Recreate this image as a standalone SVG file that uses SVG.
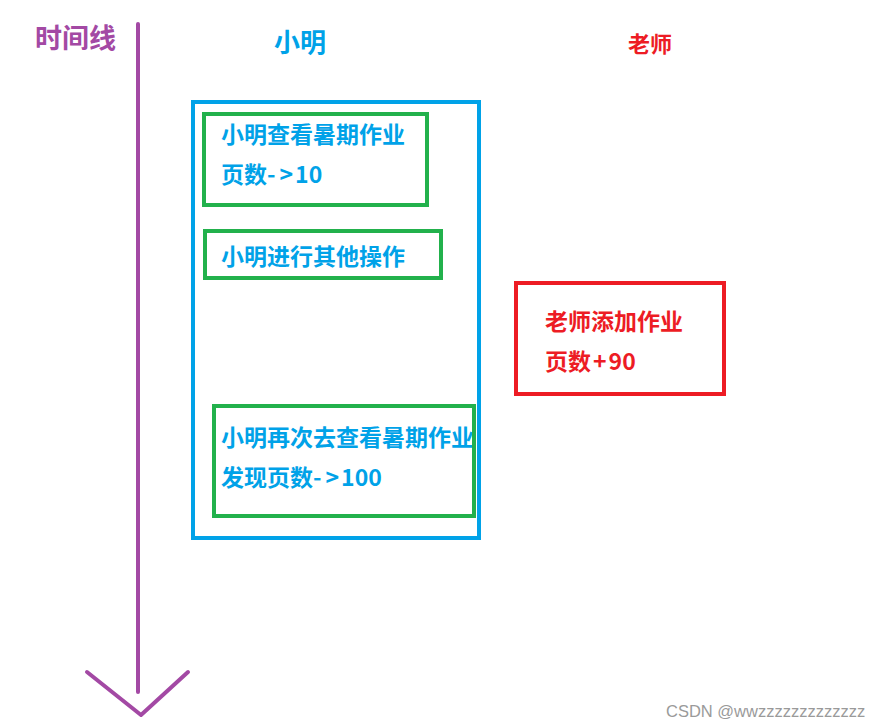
<svg xmlns="http://www.w3.org/2000/svg" width="881" height="728" viewBox="0 0 881 728">
<style>
.t{font-family:"Microsoft YaHei","Noto Sans CJK SC","Noto Sans",sans-serif;font-weight:bold;font-size:23px}
.blue{fill:#00A2E8}
.red{fill:#ED1C24}
.purple{fill:#A349A4}
.box{fill:none;stroke-width:4}
.g{stroke:#22B14C}
</style>
<rect width="881" height="728" fill="#ffffff"/>
<g id="connectors" fill="none" stroke="#A349A4" stroke-width="4" stroke-linecap="round" stroke-linejoin="round">
<line x1="138" y1="24" x2="138" y2="692"/>
<polyline points="87,672 141,715 188,672"/>
</g>
<g id="timeline-label"><text class="t purple" x="35" y="48" style="font-size:27px">时间线</text></g>
<g id="xiaoming-label"><text class="t blue" x="274" y="52" style="font-size:26px">小明</text></g>
<g id="teacher-label"><text class="t red" x="628" y="52" style="font-size:22px">老师</text></g>
<g id="xiaoming-lane"><rect class="box" x="193" y="102" width="286" height="436" stroke="#00A2E8"/></g>
<g id="step1">
<rect class="box g" x="204" y="114" width="223" height="91"/>
<text class="t blue" x="221" y="143">小明查看暑期作业</text>
<text class="t blue" x="221" y="183">页数-<tspan dx="4">&gt;</tspan><tspan dx="2">10</tspan></text>
</g>
<g id="step2">
<rect class="box g" x="205" y="231" width="236" height="47"/>
<text class="t blue" x="221" y="265">小明进行其他操作</text>
</g>
<g id="step3">
<text class="t blue" x="221" y="446">小明再次去查看暑期作业</text>
<text class="t blue" x="221" y="486">发现页数-<tspan dx="4">&gt;</tspan><tspan dx="2">100</tspan></text>
<rect class="box g" x="214" y="406" width="260" height="110"/>
</g>
<g id="teacher-step">
<rect class="box" x="516" y="283" width="208" height="111" stroke="#ED1C24"/>
<text class="t red" x="545" y="330">老师添加作业</text>
<text class="t red" x="545" y="370">页数<tspan dx="2">+</tspan><tspan dx="2">90</tspan></text>
</g>
<g id="watermark"><text x="666" y="717" font-family="Liberation Sans, Arial, sans-serif" font-size="16.5" fill="#9a9a9a">CSDN @wwzzzzzzzzzzzzz</text></g>
</svg>
